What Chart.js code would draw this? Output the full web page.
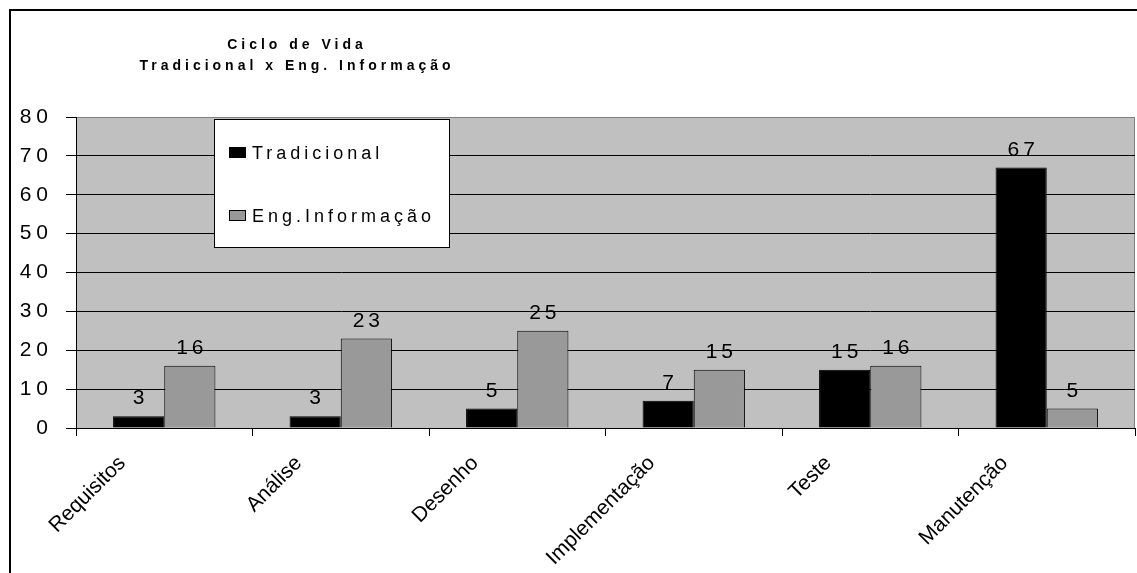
<!DOCTYPE html>
<html>
<head>
<meta charset="utf-8">
<script src="https://cdn.jsdelivr.net/npm/chart.js@4"></script>
<style>
  html, body { margin: 0; padding: 0; background: #fff; }
  #chart { display: block; }
</style>
</head>
<body>
<canvas id="chart" width="1137" height="573"></canvas>
<script>
// dados do gráfico
const fases = ['Requisitos', 'Análise', 'Desenho', 'Implementação', 'Teste', 'Manutenção'];
const tradicional = [3, 3, 5, 7, 15, 67];
const engInformacao = [16, 23, 25, 15, 16, 5];
const tituloLinhas = ['Ciclo de Vida', 'Tradicional x Eng. Informação'];
const yMax = 80;
const yPasso = 10;

const FONTE = '"Liberation Sans", Arial, sans-serif';

// fundo geral, moldura e fundo cinza da área de plotagem
const fundoPlugin = {
    id: 'fundo',
    beforeDraw(chart) {
        const { ctx, chartArea: a } = chart;
        ctx.save();
        ctx.letterSpacing = '0px';
        ctx.fillStyle = '#ffffff';
        ctx.fillRect(0, 0, chart.width, chart.height);
        // moldura externa (só esquerda e topo aparecem)
        ctx.strokeStyle = '#000';
        ctx.lineWidth = 2;
        ctx.beginPath();
        ctx.moveTo(10, chart.height + 5);
        ctx.lineTo(10, 10);
        ctx.lineTo(chart.width + 5, 10);
        ctx.stroke();
        // área de plotagem
        ctx.fillStyle = '#c0c0c0';
        ctx.fillRect(a.left, a.top, a.right - a.left, a.bottom - a.top);
        ctx.strokeStyle = '#808080';
        ctx.lineWidth = 1;
        ctx.strokeRect(a.left + 0.5, a.top + 0.5, a.right - a.left - 1, a.bottom - a.top);
        ctx.restore();
    },
    afterDatasetsDraw(chart) {
        // rótulos do eixo y (z=1) são desenhados depois, com espaçamento
        chart.ctx.letterSpacing = '5px';
    },
    afterDraw(chart) {
        chart.ctx.letterSpacing = '0px';
    }
};

// título, legenda e rótulos dos valores
const textosPlugin = {
    id: 'textos',
    afterDraw(chart) {
        const { ctx } = chart;
        ctx.save();

        // título
        ctx.fillStyle = '#000';
        ctx.font = 'bold 14px ' + FONTE;
        ctx.letterSpacing = '4px';
        ctx.textAlign = 'center';
        ctx.textBaseline = 'alphabetic';
        ctx.fillText(tituloLinhas[0], 297, 49);
        ctx.fillText(tituloLinhas[1], 297, 70);

        // rótulos dos valores
        ctx.font = '21px ' + FONTE;
        ctx.letterSpacing = '4px';
        ctx.textAlign = 'center';
        chart.data.datasets.forEach((ds, i) => {
            const meta = chart.getDatasetMeta(i);
            meta.data.forEach((bar, j) => {
                ctx.fillText(String(ds.data[j]), bar.x + 2, bar.y - 12);
            });
        });

        // legenda
        const lx = 214, ly = 119, lw = 235, lh = 128;
        ctx.fillStyle = '#fff';
        ctx.fillRect(lx, ly, lw, lh);
        ctx.strokeStyle = '#000';
        ctx.lineWidth = 1;
        ctx.strokeRect(lx + 0.5, ly + 0.5, lw, lh);
        ctx.font = '18px ' + FONTE;
        ctx.letterSpacing = '4px';
        ctx.textAlign = 'left';
        ctx.textBaseline = 'alphabetic';
        const linhasY = [147, 210];
        chart.data.datasets.forEach((ds, i) => {
            const y = linhasY[i];
            ctx.fillStyle = ds.backgroundColor;
            ctx.fillRect(229, y, 17, 11);
            ctx.strokeStyle = '#000';
            ctx.strokeRect(229.5, y + 0.5, 16, 10);
            ctx.fillStyle = '#000';
            ctx.fillText(ds.label, 252, y + 12);
        });

        ctx.restore();
    }
};

const ctx = document.getElementById('chart').getContext('2d');
const chart = new Chart(ctx, {
    type: 'bar',
    data: {
        labels: fases,
        datasets: [
            {
                label: 'Tradicional',
                data: tradicional,
                backgroundColor: '#000000',
                borderColor: '#000000',
                borderWidth: 1
            },
            {
                label: 'Eng.Informação',
                data: engInformacao,
                backgroundColor: '#999999',
                borderColor: '#000000',
                borderWidth: 1
            }
        ]
    },
    options: {
        responsive: false,
        animation: false,
        devicePixelRatio: 1,
        layout: { padding: { top: 117, right: 2, left: 0, bottom: 0 } },
        plugins: {
            legend: { display: false },
            title: { display: false },
            tooltip: { enabled: false }
        },
        datasets: {
            bar: { categoryPercentage: 0.58, barPercentage: 1.0 }
        },
        scales: {
            x: {
                afterFit: (scale) => { scale.height = 145; },
                grid: {
                    offset: true,
                    drawOnChartArea: false,
                    drawTicks: true,
                    tickLength: 8,
                    color: '#000'
                },
                border: { display: true, color: '#000', width: 1 },
                ticks: {
                    color: '#000',
                    font: { family: FONTE, size: 21 },
                    minRotation: 45,
                    maxRotation: 45,
                    labelOffset: -42,
                    padding: 15
                }
            },
            y: {
                min: 0,
                max: yMax,
                afterFit: (scale) => { scale.width = 76; },
                grid: {
                    color: (c) => (c.tick && c.tick.value === yMax ? '#808080' : '#000'),
                    tickColor: '#000',
                    tickLength: 10,
                    drawTicks: true
                },
                border: { display: true, color: '#000', width: 1 },
                ticks: {
                    stepSize: yPasso,
                    color: '#000',
                    font: { family: FONTE, size: 21 },
                    padding: 13,
                    z: 1
                }
            }
        }
    },
    plugins: [fundoPlugin, textosPlugin]
});
</script>
</body>
</html>
